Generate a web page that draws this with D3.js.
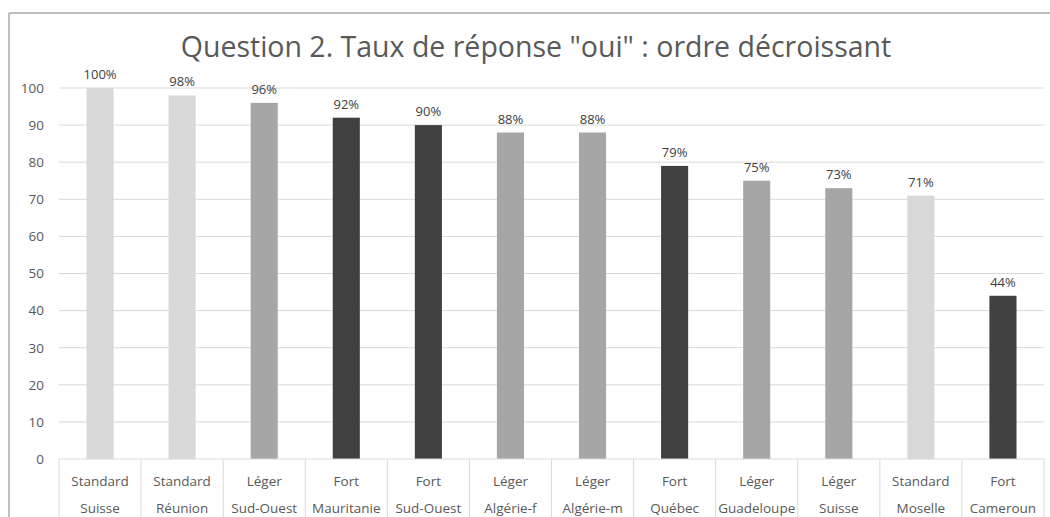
<!DOCTYPE html>
<html lang="fr">
<head>
<meta charset="UTF-8">
<title>Question 2</title>
<script src="https://d3js.org/d3.v7.min.js"></script>
<style>
  body { margin: 0; background: #fff; }
  text { font-family: "Open Sans", "Noto Sans", sans-serif; fill: #595959; }
</style>
</head>
<body>
<div id="chart"></div>
<script>
// data
const types = ["Standard", "Standard", "Léger", "Fort", "Fort", "Léger", "Léger", "Fort", "Léger", "Léger", "Standard", "Fort"];
const places = ["Suisse", "Réunion", "Sud-Ouest", "Mauritanie", "Sud-Ouest", "Algérie-f", "Algérie-m", "Québec", "Guadeloupe", "Suisse", "Moselle", "Cameroun"];
const values = [100, 98, 96, 92, 90, 88, 88, 79, 75, 73, 71, 44];
const yTicks = [0, 10, 20, 30, 40, 50, 60, 70, 80, 90, 100];

const colorOf = { "Standard": "#d9d9d9", "Léger": "#a6a6a6", "Fort": "#404040" };

const W = 1050, H = 517;
const margin = { top: 88, right: 6, bottom: 58, left: 59 };
const width = W - margin.left - margin.right;
const height = H - margin.top - margin.bottom;

const svg = d3.select("#chart").append("svg")
  .attr("width", W).attr("height", H);

// chart frame
svg.append("line").attr("x1", 9).attr("x2", W).attr("y1", 13).attr("y2", 13)
  .attr("stroke", "#bfbfbf").attr("stroke-width", 2);
svg.append("line").attr("x1", 9).attr("x2", 9).attr("y1", 13).attr("y2", H)
  .attr("stroke", "#bfbfbf").attr("stroke-width", 2);

svg.append("text")
  .attr("x", 536).attr("y", 57)
  .attr("text-anchor", "middle")
  .style("font-size", "28.5px")
  .text('Question 2. Taux de réponse "oui" : ordre décroissant');

const g = svg.append("g").attr("transform", `translate(${margin.left},${margin.top})`);

const idx = values.map((d, i) => i);
const x = d3.scaleBand().domain(idx).range([0, width]).paddingInner(0.67).paddingOuter(0.335);
const xBox = d3.scaleBand().domain(idx).range([0, width]);
const y = d3.scaleLinear().domain([0, 100]).range([height, 0]);

// gridlines
g.append("g")
  .selectAll("line").data(yTicks.slice(1)).enter().append("line")
  .attr("x1", 0).attr("x2", width)
  .attr("y1", d => y(d)).attr("y2", d => y(d))
  .attr("stroke", "#d9d9d9").attr("stroke-width", 1);

// y axis labels
const yAxis = g.append("g").attr("transform", "translate(-15,0)")
  .call(d3.axisLeft(y).tickValues(yTicks).tickSize(0).tickPadding(0));
yAxis.select(".domain").remove();
yAxis.selectAll("text").style("font-size", "13.5px").style("font-family", "Open Sans, sans-serif").attr("fill", "#595959");

// bars
g.selectAll(".bar").data(values).enter().append("rect")
  .attr("x", (d, i) => x(i))
  .attr("y", d => y(d))
  .attr("width", x.bandwidth())
  .attr("height", d => height - y(d))
  .attr("fill", (d, i) => colorOf[types[i]]);

// value labels
g.selectAll(".val").data(values).enter().append("text")
  .attr("x", (d, i) => x(i) + x.bandwidth() / 2)
  .attr("y", d => y(d) - 9)
  .attr("text-anchor", "middle")
  .style("font-size", "13px")
  .style("fill", "#404040")
  .text(d => d + "%");

// category boxes
g.append("line").attr("x1", 0).attr("x2", width).attr("y1", height).attr("y2", height)
  .attr("stroke", "#d9d9d9");
g.selectAll(".sep").data(idx.concat([values.length])).enter().append("line")
  .attr("x1", d => d < values.length ? xBox(d) : width)
  .attr("x2", d => d < values.length ? xBox(d) : width)
  .attr("y1", height).attr("y2", H - margin.top)
  .attr("stroke", "#d9d9d9");

g.selectAll(".cat1").data(types).enter().append("text")
  .attr("x", (d, i) => xBox(i) + xBox.bandwidth() / 2)
  .attr("y", height + 27)
  .attr("text-anchor", "middle")
  .style("font-size", "13.5px")
  .text(d => d);
g.selectAll(".cat2").data(places).enter().append("text")
  .attr("x", (d, i) => xBox(i) + xBox.bandwidth() / 2)
  .attr("y", height + 54)
  .attr("text-anchor", "middle")
  .style("font-size", "13.5px")
  .text(d => d);
</script>
</body>
</html>
